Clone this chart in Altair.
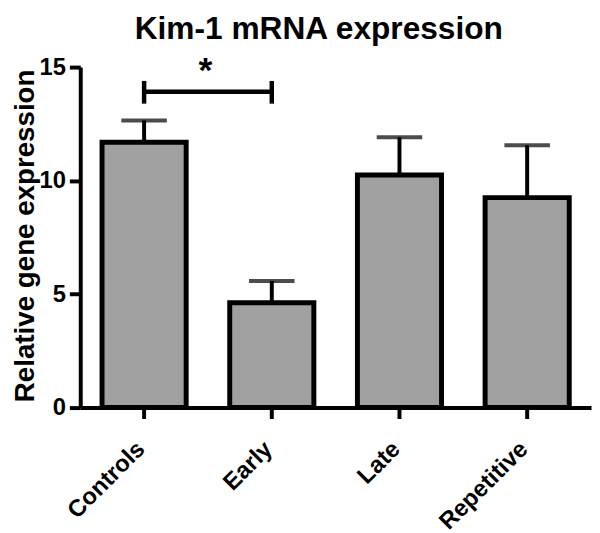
import altair as alt
import pandas as pd

categories = ["Controls", "Early", "Late", "Repetitive"]
means = [11.69, 4.62, 10.25, 9.25]
upper = [12.65, 5.58, 11.91, 11.56]

bracket_from = "Controls"
bracket_to = "Early"
bracket_y = 13.91
bracket_lo = 13.39
bracket_hi = 14.39
star_y = 14.0

df = pd.DataFrame({"group": categories, "mean": means, "upper": upper})
br_h = pd.DataFrame({"x1": [bracket_from], "x2": [bracket_to], "y": [bracket_y]})
br_v = pd.DataFrame({"x": [bracket_from, bracket_to], "lo": [bracket_lo] * 2, "hi": [bracket_hi] * 2})
star = pd.DataFrame({"x": [bracket_from], "y": [star_y], "t": ["*"]})

FONT = "Liberation Sans"

x_enc = alt.X(
    "group:N",
    sort=categories,
    scale=alt.Scale(domain=categories, paddingInner=0, paddingOuter=0),
    axis=alt.Axis(
        title=None, labelAngle=-45, labelAlign="right", labelBaseline="middle",
        labelFontSize=24, labelFontWeight="bold", labelFont=FONT, labelColor="black",
        labelPadding=27, labelOffset=-3, tickSize=11, tickWidth=4, tickColor="black",
        domainWidth=4, domainColor="black", grid=False,
    ),
)
y_scale = alt.Scale(domain=[0, 15], nice=False)
y_enc = alt.Y(
    "mean:Q",
    scale=y_scale,
    axis=alt.Axis(
        title="Relative gene expression", values=[0, 5, 10, 15],
        titleFontSize=28, titleFont=FONT, titleFontWeight="bold", titleColor="black",
        titleX=-55, titleY=170, titleAngle=-90, titleAlign="center", titleBaseline="middle",
        labelFontSize=24, labelFontWeight="bold", labelFont=FONT, labelColor="black",
        labelPadding=4, tickSize=11, tickWidth=4, tickColor="black",
        domainWidth=4, domainColor="black", grid=False,
    ),
)

bars = alt.Chart(df).mark_bar(size=85, color="#a0a0a0", stroke="black", strokeWidth=5).encode(
    x=x_enc, y=y_enc
)
err = alt.Chart(df).mark_rule(color="black", strokeWidth=4).encode(
    x=alt.X("group:N", sort=categories), y="mean:Q", y2="upper:Q"
)
caps = alt.Chart(df).mark_tick(color="black", size=46, thickness=4).encode(
    x=alt.X("group:N", sort=categories), y="upper:Q"
)
bh = alt.Chart(br_h).mark_rule(color="black", strokeWidth=4.5).encode(
    x=alt.X("x1:N"), x2="x2:N", y=alt.Y("y:Q")
)
bv = alt.Chart(br_v).mark_rule(color="black", strokeWidth=4.5).encode(
    x=alt.X("x:N"), y=alt.Y("lo:Q"), y2="hi:Q"
)
st = alt.Chart(star).mark_text(
    fontSize=36, fontWeight="bold", font=FONT, color="black", dx=62, baseline="bottom"
).encode(x=alt.X("x:N"), y=alt.Y("y:Q"), text="t:N")

chart = alt.layer(bars, err, caps, bh, bv, st).properties(
    width=516,
    height=344,
    title=alt.TitleParams(
        "Kim-1 mRNA expression", fontSize=32, fontWeight="bold", font=FONT,
        color="black", anchor="middle", dx=-17, offset=7,
    ),
    autosize=alt.AutoSizeParams(type="none"),
    padding={"left": 73, "top": 57, "right": 1, "bottom": 124},
).configure_view(stroke=None)

chart.save("out.html", embed_options={"renderer": "svg", "actions": False})
